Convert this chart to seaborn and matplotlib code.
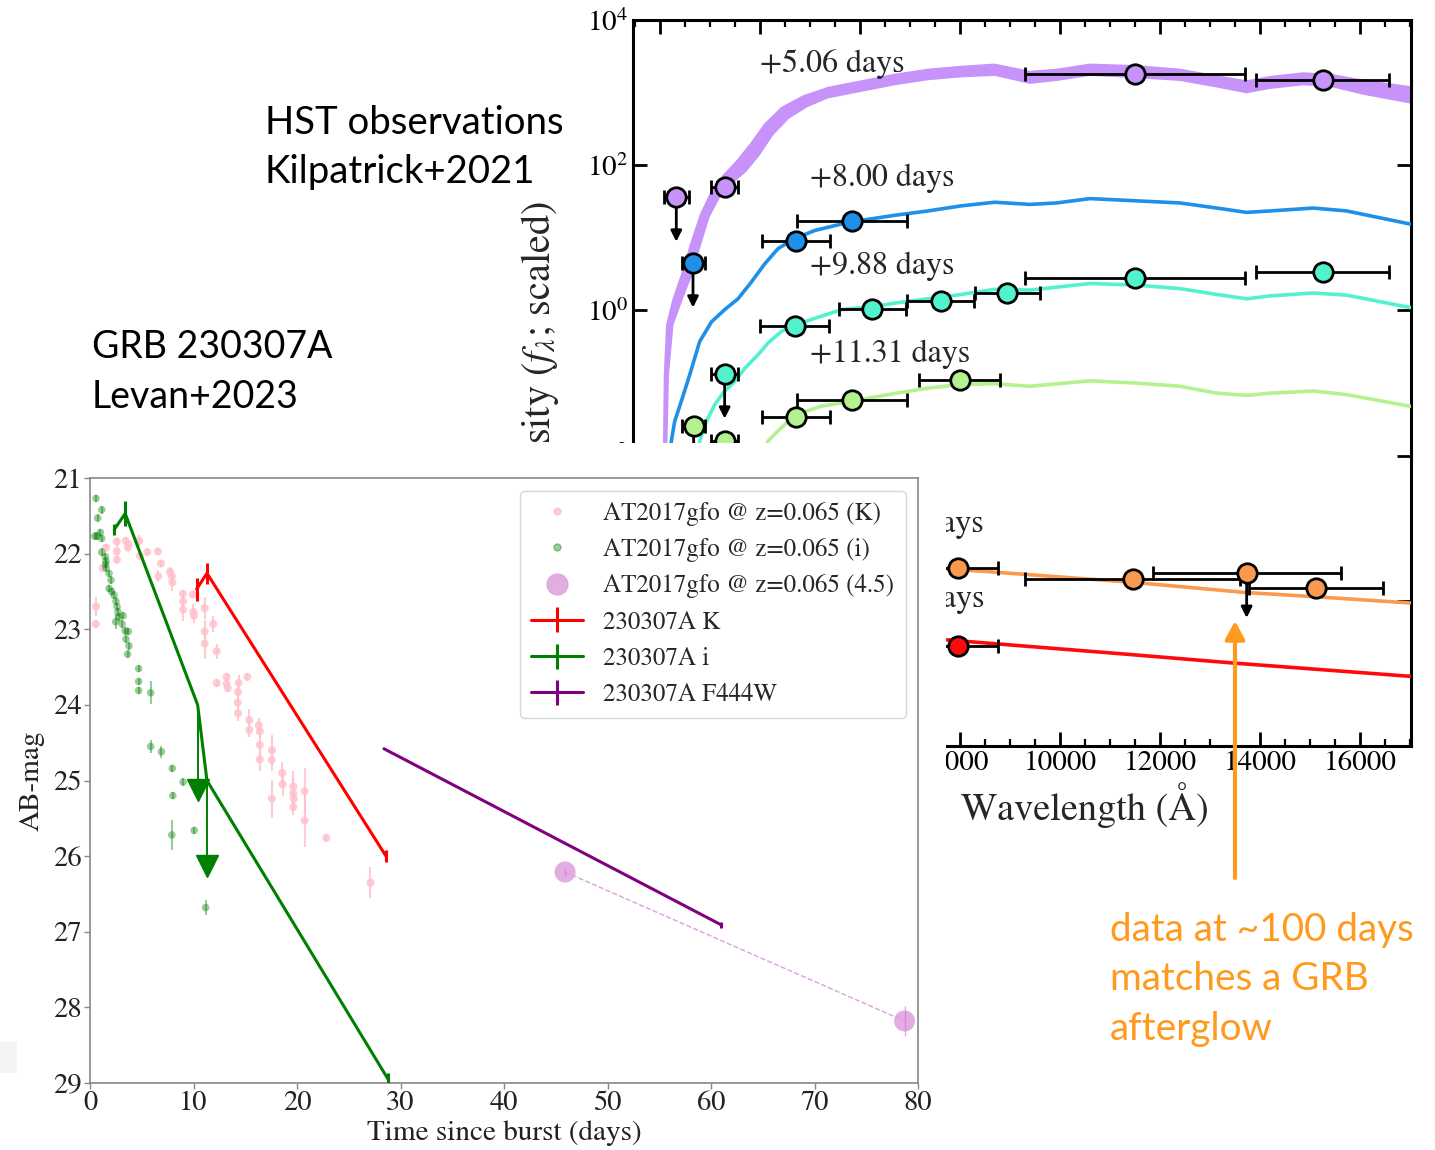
import numpy as np
import matplotlib
matplotlib.use("Agg")
import matplotlib.pyplot as plt
import seaborn as sns
from matplotlib.patches import Rectangle, FancyArrowPatch
from matplotlib.lines import Line2D
from matplotlib.transforms import Bbox, TransformedBbox
from matplotlib.ticker import MultipleLocator, NullLocator, FixedFormatter, FixedLocator

# ------------------------------------------------------------------
# SED panel data (wavelength in Angstrom, log10 of scaled f_lambda)
# ------------------------------------------------------------------
# +5.06 d model band (upper / lower edges)
band_up_lam = [2040, 2060, 2075, 2120, 2250, 2420, 2620, 2800, 3000, 3260, 3520, 3800, 4080, 4420, 4850,
               5360, 6027, 6693, 7360, 8027, 8693, 9400, 9933, 10600, 11500, 12400, 13133, 13733, 14200,
               14867, 15400, 16067, 17000]
band_up_log = [-2.3, -1.80, -0.89, -0.20, 0.16, 0.50, 0.96, 1.33, 1.62, 1.87, 2.06, 2.30, 2.57, 2.80, 2.96,
               3.08, 3.17, 3.26, 3.33, 3.37, 3.40, 3.30, 3.33, 3.40, 3.38, 3.33, 3.24, 3.17, 3.23,
               3.28, 3.26, 3.18, 3.09]
band_lo_lam = [2120, 2150, 2180, 2270, 2460, 2630, 2830, 2990, 3190, 3460, 3740, 4000, 4260, 4580, 4950,
               5360, 6027, 6693, 7360, 8027, 8693, 9400, 9933, 10600, 11500, 12400, 13133, 13733, 14200,
               14867, 15400, 16067, 17000]
band_lo_log = [-2.3, -1.80, -0.89, -0.20, 0.16, 0.46, 0.92, 1.28, 1.54, 1.75, 1.92, 2.14, 2.41, 2.64, 2.80,
               2.92, 3.01, 3.10, 3.17, 3.21, 3.23, 3.12, 3.16, 3.23, 3.20, 3.16, 3.07, 2.99, 3.05,
               3.10, 3.08, 2.97, 2.85]

# +8.00 d model
blue_lam = [2190, 2227, 2293, 2427, 2593, 2793, 3027, 3293, 3560, 3827, 4093, 4360, 4693, 5093, 5627, 6027,
            6693, 7360, 8027, 8693, 9400, 9933, 10600, 11500, 12400, 13133, 13733, 14200, 15067, 15733, 17000]
blue_log = [-2.2, -1.80, -1.53, -1.25, -0.89, -0.43, -0.16, 0.01, 0.16, 0.39, 0.64, 0.85, 0.99, 1.10, 1.19, 1.24,
            1.31, 1.37, 1.44, 1.49, 1.46, 1.48, 1.54, 1.51, 1.48, 1.41, 1.35, 1.37, 1.41, 1.37, 1.19]

# +9.88 d model
turq_lam = [2740, 2793, 2927, 3093, 3293, 3493, 3693, 3960, 4160, 4427, 4693, 5093, 5627, 6247, 6693, 7360,
            8027, 8693, 9400, 9933, 10600, 11500, 12400, 13133, 13733, 14200, 15067, 15733, 17000]
turq_log = [-2.2, -1.80, -1.53, -1.30, -1.11, -0.98, -0.80, -0.61, -0.45, -0.29, -0.20, -0.11, 0.01, 0.05, 0.10,
            0.16, 0.22, 0.29, 0.28, 0.32, 0.37, 0.35, 0.30, 0.22, 0.16, 0.20, 0.24, 0.21, 0.04]

# +11.31 d model
lgrn_lam = [4060, 4160, 4360, 4560, 4827, 5227, 5840, 6560, 7360, 8027, 8693, 9400, 10600, 11500, 12400,
            13133, 13733, 14200, 15067, 15733, 17000]
lgrn_log = [-2.0, -1.80, -1.66, -1.53, -1.41, -1.32, -1.25, -1.16, -1.07, -1.02, -1.01, -1.045, -0.97, -1.00,
            -1.045, -1.14, -1.17, -1.14, -1.11, -1.16, -1.32]

# late-time afterglow models
orng_lam = [7734, 11450, 13700, 15130, 17000]
orng_log = [-3.557, -3.745, -3.885, -3.945, -4.03]
red_lam = [7734, 11480, 13480, 17000]
red_log = [-4.538, -4.744, -4.858, -5.04]

# photometry: wavelength, log flux, half band width, upper limit flag
p506_lam = [2326, 3294, 11500, 15250]
p506_log = [1.566, 1.703, 3.256, 3.178]
p506_xerr = [250, 270, 2200, 1330]
p506_ul = [True, False, False, False]

p800_lam = [2660, 4713, 5840]
p800_log = [0.658, 0.955, 1.237]
p800_xerr = [230, 683, 1093]
p800_ul = [True, False, False]

p988_lam = [3293, 4693, 6247, 7613, 8940, 11500, 15250]
p988_log = [-0.872, -0.21, 0.018, 0.133, 0.242, 0.452, 0.534]
p988_xerr = [270, 687, 667, 673, 650, 2200, 1330]
p988_ul = [True, False, False, False, False, False, False]

p1131_lam = [2673, 3293, 4713, 5840, 7993]
p1131_log = [-1.594, -1.80, -1.466, -1.229, -0.963]
p1131_xerr = [230, 270, 683, 1093, 807]
p1131_ul = [True, True, False, False, False]

porng_lam = [7967, 11450, 13733, 15120]
porng_log = [-3.544, -3.703, -3.616, -3.83]
porng_xerr = [787, 2150, 1883, 1333]
porng_ul = [False, False, True, False]

pred_lam = [7967]
pred_log = [-4.616]
pred_xerr = [790]
pred_ul = [False]

sed_labels = ["+5.06 days", "+8.00 days", "+9.88 days", "+11.31 days"]
sed_label_lam = [3993, 4993, 4993, 4993]
sed_label_log = [3.40, 1.82, 0.612, -0.598]
late_labels = ["+29.2 days", "+61.5 days"]
late_label_lam = [8480, 8480]
late_label_log = [-2.945, -3.97]

sed_yticks = [1e-6, 1e-4, 1e-2, 1e0, 1e2, 1e4]
sed_yticklabels = ["", "", r"$10^{-2}$", r"$10^{0}$", r"$10^{2}$", r"$10^{4}$"]

# ------------------------------------------------------------------
# Light-curve panel data (days, AB mag, error)
# ------------------------------------------------------------------
gfoK_t = [0.58, 0.55, 1.22, 1.55, 2.58, 2.58, 2.6, 3.45, 3.67, 3.7, 4.77, 4.83, 5.54, 6.57, 6.86, 6.6, 7.73,
          7.9, 7.96, 8.98, 9.0, 9.0, 9.92, 9.98, 10.05, 11.08, 11.08, 11.08, 11.91, 12.24, 12.24, 13.2, 13.2,
          13.3, 14.36, 14.3, 14.26, 14.3, 15.2, 15.4, 15.4, 16.3, 16.4, 16.4, 16.4, 17.58, 17.55, 17.58,
          18.58, 18.6, 19.64, 19.64, 19.7, 19.64, 20.74, 20.74, 22.83, 27.1]
gfoK_m = [22.70, 22.93, 22.19, 21.92, 21.84, 21.97, 22.08, 21.83, 21.92, 21.87, 21.83, 22.03, 21.98, 21.97,
          22.13, 22.3, 22.24, 22.3, 22.38, 22.53, 22.63, 22.74, 22.54, 22.77, 22.82, 22.72, 23.03, 23.19,
          22.93, 23.29, 23.71, 23.63, 23.72, 23.78, 23.71, 23.83, 23.97, 24.11, 23.63, 24.2, 24.33, 24.27,
          24.35, 24.53, 24.72, 24.6, 24.73, 25.24, 24.9, 25.05, 25.08, 25.17, 25.24, 25.35, 25.14, 25.53,
          25.76, 26.35]
gfoK_e = [0.12, 0.05, 0.05, 0.05, 0.05, 0.08, 0.06, 0.05, 0.05, 0.05, 0.08, 0.06, 0.05, 0.05, 0.05, 0.08,
          0.06, 0.10, 0.12, 0.05, 0.10, 0.15, 0.05, 0.10, 0.10, 0.15, 0.15, 0.20, 0.10, 0.10, 0.05, 0.05,
          0.05, 0.05, 0.10, 0.10, 0.10, 0.10, 0.05, 0.15, 0.10, 0.10, 0.10, 0.15, 0.15, 0.20, 0.15, 0.25,
          0.15, 0.15, 0.20, 0.20, 0.15, 0.10, 0.30, 0.35, 0.05, 0.20]

gfoi_t = [0.58, 0.74, 1.13, 0.45, 0.7, 1.0, 1.13, 1.13, 1.48, 1.55, 1.55, 1.5, 1.84, 2.03, 1.84, 2.09, 2.32,
          2.51, 2.61, 2.7, 2.48, 2.8, 3.2, 3.1, 3.4, 3.7, 3.47, 3.76, 3.63, 4.7, 4.7, 4.7, 5.86, 5.86, 6.9,
          7.95, 8.0, 9.0, 7.9, 10.07, 11.17]
gfoi_m = [21.27, 21.53, 21.42, 21.77, 21.77, 21.72, 21.80, 21.98, 22.04, 22.10, 22.19, 22.14, 22.26, 22.35,
          22.46, 22.50, 22.55, 22.63, 22.70, 22.77, 22.90, 22.84, 22.82, 22.93, 23.02, 23.03, 23.13, 23.22,
          23.33, 23.52, 23.69, 23.81, 23.84, 24.55, 24.62, 24.84, 25.20, 25.02, 25.72, 25.66, 26.68]
gfoi_e = [0.05, 0.05, 0.05, 0.05, 0.05, 0.05, 0.05, 0.05, 0.05, 0.05, 0.05, 0.05, 0.05, 0.05, 0.05, 0.05,
          0.05, 0.05, 0.05, 0.05, 0.10, 0.05, 0.05, 0.05, 0.05, 0.05, 0.05, 0.05, 0.05, 0.05, 0.05, 0.05,
          0.15, 0.08, 0.08, 0.05, 0.05, 0.05, 0.20, 0.05, 0.10]

gfo45_t = [45.9, 78.7]
gfo45_m = [26.21, 28.18]
gfo45_e = [0.05, 0.2]

grbK_t = [10.3, 11.3, 28.6]
grbK_m = [22.47, 22.26, 26.0]
grbK_e = [0.15, 0.14, 0.08]

grbi_t = [2.35, 3.4, 10.4, 11.3, 28.8]
grbi_m = [21.68, 21.47, 24.0, 25.0, 28.95]
grbi_e = [0.07, 0.17, 0.0, 0.0, 0.08]
grbi_lim_t = [10.4, 11.3]
grbi_lim_m = [24.0, 25.0]

grbF_t = [28.4, 61.0]
grbF_m = [24.58, 26.91]
grbF_e = [0.0, 0.04]

lc_legend = ["AT2017gfo @ z=0.065 (K)", "AT2017gfo @ z=0.065 (i)", "AT2017gfo @ z=0.065 (4.5)",
             "230307A K", "230307A i", "230307A F444W"]

# ------------------------------------------------------------------
W, H = 1435, 1150
sns.set_style("ticks")
plt.rcParams["font.family"] = ["STIXGeneral", "DejaVu Sans"]
plt.rcParams["mathtext.fontset"] = "stix"

fig = plt.figure(figsize=(W / 100, H / 100), dpi=100)
fig.patch.set_facecolor("white")

# ---------------- SED axes ----------------
ax = fig.add_axes([633 / W, 1 - 746 / H, (1411 - 633) / W, (746 - 20) / H], zorder=0)
ax.set_yscale("log")

C_PUR, C_BLU, C_TRQ, C_LGR, C_ORG, C_RED = "#c792f9", "#1e90ea", "#52f2cf", "#b3f28f", "#f99a50", "#ff0a0a"

ax.fill(np.concatenate([band_up_lam, band_lo_lam[::-1]]),
        10 ** np.concatenate([band_up_log, band_lo_log[::-1]]),
        color=C_PUR, lw=0, zorder=2)
for lam, lg, c in [(blue_lam, blue_log, C_BLU), (turq_lam, turq_log, C_TRQ), (lgrn_lam, lgrn_log, C_LGR),
                   (orng_lam, orng_log, C_ORG), (red_lam, red_log, C_RED)]:
    sns.lineplot(x=lam, y=10 ** np.array(lg), ax=ax, color=c, lw=2.6, sort=False, estimator=None,
                 legend=False, zorder=3)

ARROW_DEX = 0.62
for lam, lg, xe, ul, c in [(p506_lam, p506_log, p506_xerr, p506_ul, C_PUR),
                            (p800_lam, p800_log, p800_xerr, p800_ul, C_BLU),
                            (p988_lam, p988_log, p988_xerr, p988_ul, C_TRQ),
                            (p1131_lam, p1131_log, p1131_xerr, p1131_ul, C_LGR),
                            (porng_lam, porng_log, porng_xerr, porng_ul, C_ORG),
                            (pred_lam, pred_log, pred_xerr, pred_ul, C_RED)]:
    yv = 10 ** np.array(lg)
    for x0, y0, u in zip(lam, yv, ul):
        if u:
            ax.annotate("", xy=(x0, y0 / 10 ** ARROW_DEX), xytext=(x0, y0),
                        arrowprops=dict(arrowstyle="-|>", color="k", lw=2, mutation_scale=16,
                                        shrinkA=0, shrinkB=0), zorder=4)
    ax.errorbar(lam, yv, xerr=xe, fmt="none", ecolor="k", elinewidth=2, capsize=5, capthick=2, zorder=5)
    ax.plot(lam, yv, "o", ms=14, mfc=c, mec="k", mew=2, zorder=6)

for s, lx, ly in zip(sed_labels, sed_label_lam, sed_label_log):
    ax.text(lx, 10 ** ly, s, fontsize=23, ha="left", va="center", zorder=7)
# labels of the late epochs: only their right end shows beside the inset
late_clip = TransformedBbox(Bbox([[946 / W, 0], [1, 1 - 443 / H]]), fig.transFigure)
for s, lx, ly in zip(late_labels, late_label_lam, late_label_log):
    t = ax.text(lx, 10 ** ly, s, fontsize=23, ha="right", va="center", zorder=7)
    t.set_clip_box(late_clip)
    t.set_clip_on(True)

ax.set_xlim(1460, 17020)
ax.set_ylim(1e-6, 1e4)
ax.xaxis.set_major_locator(MultipleLocator(2000))
ax.xaxis.set_minor_locator(MultipleLocator(500))
ax.yaxis.set_major_locator(FixedLocator(sed_yticks))
ax.yaxis.set_major_formatter(FixedFormatter(sed_yticklabels))
ax.yaxis.set_minor_locator(NullLocator())
ax.tick_params(which="both", direction="in", top=True, right=True, labelsize=21, colors="k")
ax.tick_params(which="major", length=10, width=2)
ax.tick_params(which="minor", length=5, width=1.6)
for sp in ax.spines.values():
    sp.set_linewidth(2.2)
    sp.set_color("k")
ax.set_xlabel("Wavelength (Å)", fontsize=27.5)
ax.xaxis.set_label_coords(0.581, -0.049)
ax.set_ylabel(r"Flux density ($f_\lambda$; scaled)", fontsize=29)
ax.yaxis.set_label_coords(-0.092, 0.485)

# ---------------- cover (white background of inset image) ----------------
fig.add_artist(Rectangle((0, 0), 946 / W, 1 - 443 / H, transform=fig.transFigure,
                         facecolor="white", edgecolor="none", zorder=1))
fig.add_artist(Rectangle((0, 1 - 1073 / H), 17 / W, 31 / H, transform=fig.transFigure,
                         facecolor="#f4f4f4", edgecolor="none", zorder=1.5))

# ---------------- Light curve axes ----------------
lc = fig.add_axes([90 / W, 1 - 1083 / H, 828 / W, (1083 - 478) / H], zorder=2)
lc.set_facecolor("white")

lc.errorbar(gfoK_t, gfoK_m, yerr=gfoK_e, fmt="none", ecolor="pink", elinewidth=1.5, alpha=0.8, zorder=2)
sns.scatterplot(x=gfoK_t, y=gfoK_m, ax=lc, color="pink", s=34, alpha=0.8, edgecolor="none",
                legend=False, zorder=2)
lc.errorbar(gfoi_t, gfoi_m, yerr=gfoi_e, fmt="none", ecolor="green", elinewidth=1.5, alpha=0.4, zorder=2)
sns.scatterplot(x=gfoi_t, y=gfoi_m, ax=lc, color="green", s=30, alpha=0.4, edgecolor="none",
                legend=False, zorder=2)
lc.plot(gfo45_t, gfo45_m, ls="--", lw=1, color="plum", zorder=2)
lc.errorbar(gfo45_t, gfo45_m, yerr=gfo45_e, fmt="none", ecolor="orchid", elinewidth=1, alpha=0.6, zorder=3)
sns.scatterplot(x=gfo45_t, y=gfo45_m, ax=lc, color="plum", s=230, alpha=0.85, edgecolor="none",
                legend=False, zorder=2)

ebK = lc.errorbar(grbK_t, grbK_m, yerr=grbK_e, color="red", lw=2.2, elinewidth=2.2, zorder=4)
ebi = lc.errorbar(grbi_t, grbi_m, yerr=grbi_e, color="green", lw=2.2, elinewidth=2.2, zorder=4)
ebF = lc.errorbar(grbF_t, grbF_m, yerr=grbF_e, color="purple", lw=2.2, elinewidth=2.2, zorder=4)
LIM_MAG = 1.13
for t0, m0 in zip(grbi_lim_t, grbi_lim_m):
    lc.plot([t0, t0], [m0, m0 + LIM_MAG], color="green", lw=1.4, zorder=4)
    lc.plot([t0], [m0 + LIM_MAG], marker="v", ms=16, color="green", zorder=4)

lc.set_xlim(0, 80)
lc.set_ylim(29, 21)
lc.set_xticks(range(0, 81, 10))
lc.set_yticks(range(21, 30))
lc.tick_params(direction="out", length=4, width=1, color="#888888", labelsize=20.5, pad=2,
               labelcolor="#222222")
for sp in lc.spines.values():
    sp.set_color("#888888")
    sp.set_linewidth(1.2)
    sp.set_visible(True)
lc.set_xlabel("Time since burst (days)", fontsize=21, labelpad=3, color="#222222")
lc.set_ylabel("AB-mag", fontsize=21, labelpad=6, color="#222222")

hK = Line2D([], [], ls="none", marker="o", ms=5, color="pink", alpha=0.8)
hi = Line2D([], [], ls="none", marker="o", ms=5, color="green", alpha=0.4)
h45 = Line2D([], [], ls="none", marker="o", ms=15, color="plum", alpha=0.85)
leg = lc.legend([hK, hi, h45, ebK, ebi, ebF], lc_legend, loc="upper right", fontsize=18,
                frameon=True, fancybox=True, edgecolor="#d8d8d8", framealpha=1, borderaxespad=0.5,
                labelspacing=0.49, handlelength=2.1, handletextpad=0.8, borderpad=0.45)

# ---------------- annotations ----------------
SANS = ["Lato", "DejaVu Sans"]
fig.text(265 / W, 1 - 134 / H, "HST observations", fontsize=27.6, family=SANS, color="black",
         va="baseline", zorder=5)
fig.text(265 / W, 1 - 183 / H, "Kilpatrick+2021", fontsize=27.6, family=SANS, color="black",
         va="baseline", zorder=5)
fig.text(92 / W, 1 - 358 / H, "GRB 230307A", fontsize=27, family=SANS, color="black", va="baseline",
         zorder=5)
fig.text(92 / W, 1 - 408 / H, "Levan+2023", fontsize=27, family=SANS, color="black", va="baseline",
         zorder=5)
C_NOTE = "#ff9a1f"
for s, yb in zip(["data at ~100 days", "matches a GRB", "afterglow"], [941, 990, 1040]):
    fig.text(1110 / W, 1 - yb / H, s, fontsize=27.8, family=SANS, color=C_NOTE, va="baseline", zorder=5)

arr = FancyArrowPatch((1235 / W, 1 - 878 / H), (1235 / W, 1 - 621 / H), transform=fig.transFigure,
                      arrowstyle="-|>,head_length=0.55,head_width=0.3", mutation_scale=20,
                      color=C_NOTE, lw=3, shrinkA=0, shrinkB=0, zorder=6)
fig.add_artist(arr)

fig.savefig("out.png", dpi=100, facecolor="white")
